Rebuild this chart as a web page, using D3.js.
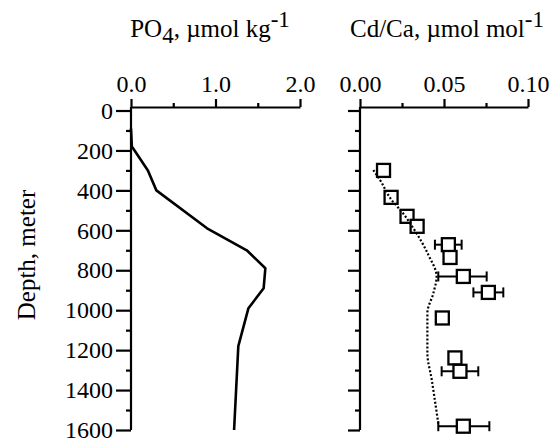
<!DOCTYPE html>
<html>
<head>
<meta charset="utf-8">
<script src="https://cdn.jsdelivr.net/npm/d3@7"></script>
<style>
    body { margin: 0; background: #fff; }
    svg { display: block; }
    text { font-family: "Liberation Serif", "Times New Roman", serif; fill: #000; }
</style>
</head>
<body>
<div id="chart"></div>
<script>
// PO4 profile (solid line)
const po4Depth = [90, 180, 205, 300, 400, 590, 700, 790, 890, 990, 1180, 1600];
const po4Value = [0.0, 0.01, 0.05, 0.2, 0.3, 0.9, 1.37, 1.59, 1.57, 1.39, 1.27, 1.22];

// Cd/Ca measurements (squares) with error bars (null = none)
const cdDepth = [300, 435, 530, 580, 672, 736, 831, 911, 1039, 1239, 1306, 1581];
const cdValue = [0.014, 0.0185, 0.028, 0.034, 0.0526, 0.0536, 0.0615, 0.0764, 0.049, 0.0565, 0.0595, 0.0615];
const cdLow = [null, null, null, null, 0.0446, null, 0.0466, 0.0675, null, null, 0.0486, 0.0466];
const cdHigh = [null, null, null, null, 0.0605, null, 0.0754, 0.0853, null, null, 0.0704, 0.077];

// modelled Cd/Ca (dotted line)
const modelDepth = [298, 348, 448, 506, 589, 723, 831, 914, 1014, 1214, 1348, 1580];
const modelValue = [0.0079, 0.0119, 0.0188, 0.0248, 0.0317, 0.0407, 0.0456, 0.0437, 0.0401, 0.0401, 0.0427, 0.0468];

const depthMajor = [0, 200, 400, 600, 800, 1000, 1200, 1400, 1600];
const depthMinor = [100, 300, 500, 700, 900, 1100, 1300, 1500];
const po4Major = [0, 1, 2];
const po4Minor = [0.5, 1.5];
const cdMajor = [0, 0.05, 0.1];
const cdMinor = [0.025, 0.075];

const width = 551, height = 442;
const svg = d3.select("#chart").append("svg")
    .attr("width", width)
    .attr("height", height);

const y = d3.scaleLinear().domain([0, 1600]).range([110.5, 430]);
const axisY = 107;
const xPo4 = d3.scaleLinear().domain([0, 2]).range([131, 300]);
const xCd = d3.scaleLinear().domain([0, 0.1]).range([360, 528]);

function styleAxis(g) {
    g.selectAll("path, line").attr("stroke", "#000").attr("stroke-width", 2.2);
    g.selectAll("text").attr("fill", "#000").style("font-family", "Liberation Serif").style("font-size", "24px");
}

function drawPanel(x, major, minor, fmt, showLabels, majorLen) {
    // top axis
    const top = svg.append("g").attr("transform", `translate(0,${axisY})`);
    top.call(d3.axisTop(x).tickValues(major).tickFormat(fmt).tickSize(8).tickSizeOuter(0).tickPadding(7));
    styleAxis(top);
    const topMinor = svg.append("g").attr("transform", `translate(0,${axisY})`);
    topMinor.call(d3.axisTop(x).tickValues(minor).tickFormat("").tickSize(4).tickSizeOuter(0));
    styleAxis(topMinor);
    topMinor.select(".domain").remove();

    // left axis
    const left = svg.append("g").attr("transform", `translate(${x(0)},0)`);
    left.call(d3.axisLeft(y).tickValues(depthMajor).tickFormat(showLabels ? d3.format("d") : "")
        .tickSize(majorLen).tickSizeOuter(0).tickPadding(3));
    styleAxis(left);
    left.select(".domain").attr("d", `M0,${axisY}V${y(1600)}`);
    const leftMinor = svg.append("g").attr("transform", `translate(${x(0)},0)`);
    leftMinor.call(d3.axisLeft(y).tickValues(depthMinor).tickFormat("").tickSize(5).tickSizeOuter(0));
    styleAxis(leftMinor);
    leftMinor.select(".domain").remove();
}

drawPanel(xPo4, po4Major, po4Minor, d3.format(".1f"), true, 15);
drawPanel(xCd, cdMajor, cdMinor, d3.format(".2f"), false, 12);

// PO4 line
const po4Data = po4Depth.map((d, i) => ({ depth: d, value: po4Value[i] }));
svg.append("path")
    .datum(po4Data)
    .attr("fill", "none")
    .attr("stroke", "#000")
    .attr("stroke-width", 2.6)
    .attr("stroke-linejoin", "round")
    .attr("d", d3.line().x(d => xPo4(d.value)).y(d => y(d.depth)));

// Cd/Ca points
const cdData = cdDepth.map((d, i) => ({ depth: d, value: cdValue[i], lo: cdLow[i], hi: cdHigh[i] }));
const errG = svg.append("g");
cdData.filter(d => d.lo !== null).forEach(d => {
    const cy = y(d.depth);
    errG.append("line")
        .attr("x1", xCd(d.lo)).attr("x2", xCd(d.hi))
        .attr("y1", cy).attr("y2", cy)
        .attr("stroke", "#000").attr("stroke-width", 2);
    [d.lo, d.hi].forEach(v => {
        errG.append("line")
            .attr("x1", xCd(v)).attr("x2", xCd(v))
            .attr("y1", cy - 5).attr("y2", cy + 5)
            .attr("stroke", "#000").attr("stroke-width", 2);
    });
});

const sq = 13;
svg.append("g").selectAll("rect")
    .data(cdData)
    .join("rect")
    .attr("x", d => xCd(d.value) - sq / 2)
    .attr("y", d => y(d.depth) - sq / 2)
    .attr("width", sq)
    .attr("height", sq)
    .attr("fill", "#fff")
    .attr("stroke", "#000")
    .attr("stroke-width", 2.3);

// model dotted line (drawn over the squares, as in the original)
const modelData = modelDepth.map((d, i) => ({ depth: d, value: modelValue[i] }));
svg.append("path")
    .datum(modelData)
    .attr("fill", "none")
    .attr("stroke", "#000")
    .attr("stroke-width", 2.2)
    .attr("stroke-dasharray", "2,2")
    .attr("d", d3.line().curve(d3.curveMonotoneY).x(d => xCd(d.value)).y(d => y(d.depth)));

// titles
const t1 = svg.append("text").attr("x", 210).attr("y", 37).attr("text-anchor", "middle").style("font-size", "25px");
t1.append("tspan").text("PO");
t1.append("tspan").attr("dy", 6).style("font-size", "23px").text("4");
t1.append("tspan").attr("dy", -6).text(", µmol kg");
t1.append("tspan").attr("dy", -10).style("font-size", "23px").text("-1");

const t2 = svg.append("text").attr("x", 447).attr("y", 37).attr("text-anchor", "middle").style("font-size", "25px");
t2.append("tspan").text("Cd/Ca, µmol mol");
t2.append("tspan").attr("dy", -10).style("font-size", "23px").text("-1");

svg.append("text")
    .attr("transform", "translate(35,255) rotate(-90)")
    .attr("text-anchor", "middle")
    .style("font-size", "25px")
    .text("Depth, meter");
</script>
</body>
</html>
